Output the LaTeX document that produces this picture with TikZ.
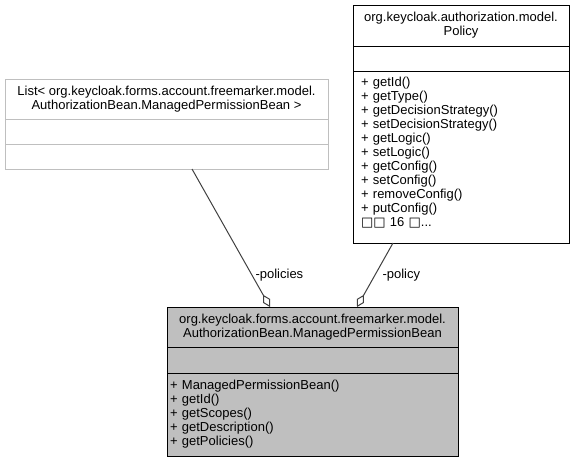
\documentclass[tikz,border=0pt]{standalone}
\usepackage{fontspec}
\setmainfont{Liberation Sans}
\newfontfamily\boxfont{DejaVu Sans}
\usepackage{tikz}
\usetikzlibrary{positioning,arrows.meta}
\definecolor{headgray}{HTML}{BFBFBF}
\definecolor{edgegray}{HTML}{404040}
\tikzstyle{cls} = [rectangle, draw=black, line width=1pt, outer sep=0pt, inner sep=3pt, font=\fontsize{13}{14}\selectfont]
\tikzstyle{aggr} = [draw=edgegray, line width=1pt, -{Diamond[open, length=14pt, width=8pt]}]
\tikzstyle{lbl} = [font=\fontsize{13}{14}\selectfont, inner sep=0pt]
\newcommand{\tofu}{{\boxfont □}}

\begin{document}
\begin{tikzpicture}[x=1pt, y=-1pt]
		\useasboundingbox (0,0) rectangle (575,463);
		% class itself
		\node[cls,fill=headgray,minimum width=291pt,minimum height=40pt,align=center] (mainhead) at (312.5,327) {org.keycloak.forms.account.freemarker.model.\\AuthorizationBean.ManagedPermissionBean};
		\node[cls,fill=headgray,minimum width=291pt,minimum height=26pt,below=0pt of mainhead] (mainattr) {};
		\node[cls,fill=headgray,text width=285pt,minimum height=83pt,align=left,below=0pt of mainattr] (mainops) {+ ManagedPermissionBean()\\+ getId()\\+ getScopes()\\+ getDescription()\\+ getPolicies()};
		% list of beans
		\node[cls,draw=headgray,minimum width=323pt,minimum height=40pt,align=center] (listhead) at (166.5,99) {List< org.keycloak.forms.account.freemarker.model.\\AuthorizationBean.ManagedPermissionBean >};
		\node[cls,draw=headgray,minimum width=323pt,minimum height=25pt,below=0pt of listhead] (listattr) {};
		\node[cls,draw=headgray,minimum width=323pt,minimum height=25pt,below=0pt of listattr] (listops) {};
		% policy
		\node[cls,minimum width=216pt,minimum height=41pt,align=center] (policyhead) at (461,25.5) {org.keycloak.authorization.model.\\Policy};
		\node[cls,minimum width=216pt,minimum height=25pt,below=0pt of policyhead] (policyattr) {};
		\node[cls,inner xsep=8pt,text width=200pt,minimum height=172pt,align=left,below=0pt of policyattr] (policyops) {+ getId()\\+ getType()\\+ getDecisionStrategy()\\+ setDecisionStrategy()\\+ getLogic()\\+ setLogic()\\+ getConfig()\\+ setConfig()\\+ removeConfig()\\+ putConfig()\\\tofu\tofu{} 16 \tofu...\rule[-11pt]{0pt}{11pt}};
		\draw[aggr] ([xshift=187pt]listops.south west)--([xshift=103pt]mainhead.north west) node[lbl,pos=0.77,right=3pt] {-policies};
		\draw[aggr] ([xshift=40pt]policyops.south west)--([xshift=190pt]mainhead.north west) node[lbl,pos=0.5,right=7pt] {-policy};
	\end{tikzpicture}
\end{document}
